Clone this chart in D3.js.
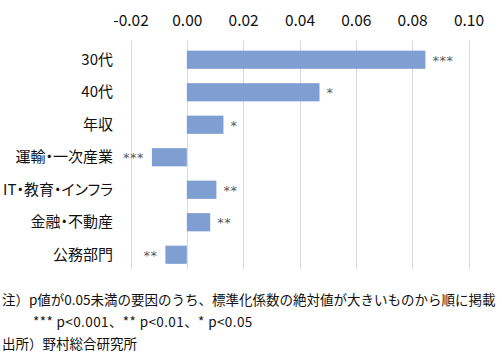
<!DOCTYPE html>
<html>
<head>
<meta charset="utf-8">
<script src="https://cdn.jsdelivr.net/npm/d3@7"></script>
<style>
  body { margin: 0; background: #fff; }
  text { font-family: "Noto Sans CJK JP", "Noto Sans", sans-serif; }
  .ylab text { font-feature-settings: "palt"; }
</style>
</head>
<body>
<div id="chart-area"></div>
<script>
// data
var categories = ["30代", "40代", "年収", "運輸・一次産業", "IT・教育・インフラ", "金融・不動産", "公務部門"];
var coefs = [0.0847, 0.0471, 0.0130, -0.0124, 0.0105, 0.0083, -0.0076];
var stars = ["***", "*", "*", "***", "**", "**", "**"];
var xTicks = [-0.02, 0, 0.02, 0.04, 0.06, 0.08, 0.10];
var notes = [
    "注）p値が0.05未満の要因のうち、標準化係数の絶対値が大きいものから順に掲載",
    "*** p<0.001、** p<0.01、* p<0.05",
    "出所）野村総合研究所"
];

var width = 502, height = 353;

var svg = d3.select("#chart-area").append("svg")
    .attr("width", width)
    .attr("height", height);

var x = d3.scaleLinear()
    .domain([-0.02, 0.10])
    .range([130.5, 468.5]);

var y = d3.scaleBand()
    .domain(categories)
    .range([43.5, 271])
    .paddingInner(0.44)
    .paddingOuter(0.22);

// grid lines
svg.append("g")
    .selectAll("line")
    .data(xTicks)
    .enter().append("line")
        .attr("x1", (d) => Math.round(x(d)) + 0.5)
        .attr("x2", (d) => Math.round(x(d)) + 0.5)
        .attr("y1", 41)
        .attr("y2", 269)
        .attr("stroke", "#d9d9d9")
        .attr("stroke-width", 1);

// top axis
var fmt = d3.format(".2f");
var xAxisCall = d3.axisTop(x)
    .tickValues(xTicks)
    .tickFormat((d) => fmt(d).replace("\u2212", "-"))
    .tickSize(0)
    .tickPadding(0);
var xAxis = svg.append("g")
    .attr("transform", "translate(0, 26)")
    .call(xAxisCall);
xAxis.select(".domain").remove();
xAxis.selectAll("text")
    .attr("font-size", 15.5)
    .attr("fill", "#111")
    .style("font-family", "\"Noto Sans CJK JP\", sans-serif");

// y labels
var yAxisCall = d3.axisLeft(y).tickSize(0).tickPadding(0);
var yAxis = svg.append("g")
    .attr("class", "ylab")
    .attr("transform", "translate(113, 0)")
    .call(yAxisCall);
yAxis.select(".domain").remove();
yAxis.selectAll("text")
    .attr("font-size", 15)
    .attr("fill", "#111")
    .style("font-family", "\"Noto Sans CJK JP\", sans-serif");

// bars
svg.selectAll("rect.bar")
    .data(categories)
    .enter().append("rect")
        .attr("class", "bar")
        .attr("x", (d, i) => x(Math.min(0, coefs[i])))
        .attr("y", (d) => y(d))
        .attr("width", (d, i) => Math.abs(x(coefs[i]) - x(0)))
        .attr("height", y.bandwidth())
        .attr("fill", "#7f9fd3");

// significance stars
svg.selectAll("text.star")
    .data(categories)
    .enter().append("text")
        .attr("class", "star")
        .attr("x", (d, i) => coefs[i] >= 0 ? x(coefs[i]) + 7 : x(coefs[i]) - 8)
        .attr("y", (d) => y(d) + y.bandwidth() / 2 + 5)
        .attr("text-anchor", (d, i) => coefs[i] >= 0 ? "start" : "end")
        .attr("font-size", 13)
        .attr("letter-spacing", 0.5)
        .attr("fill", "#595959")
        .style("font-family", "\"DejaVu Sans\", sans-serif")
        .text((d, i) => stars[i]);

// notes
svg.selectAll("text.note")
    .data(notes)
    .enter().append("text")
        .attr("class", "note")
        .attr("x", (d, i) => i === 1 ? 33 : 2)
        .attr("y", (d, i) => 305 + i * 22)
        .attr("font-size", 13.5)
        .attr("letter-spacing", (d, i) => i === 1 ? 0.4 : 0)
        .attr("fill", "#111")
        .text((d) => d);
</script>
</body>
</html>
